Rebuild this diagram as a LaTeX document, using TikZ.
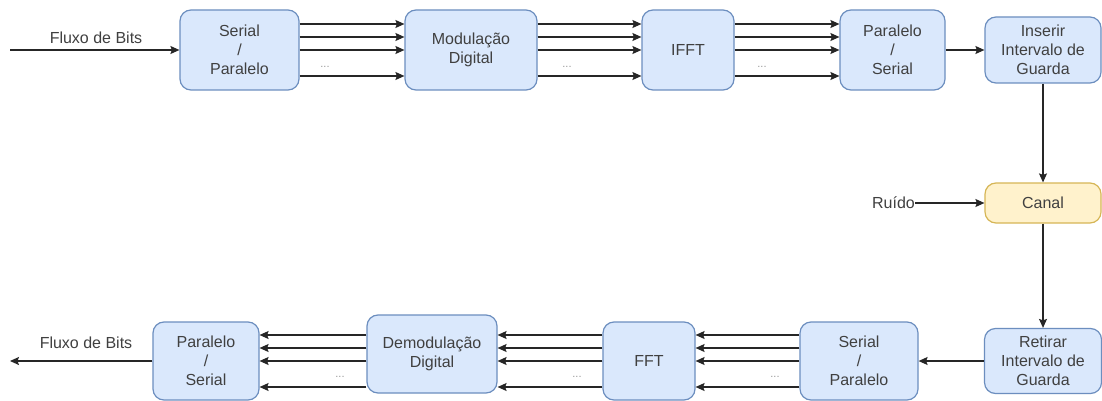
\documentclass[tikz,border=0pt]{standalone}
\usepackage{fontspec}
\setmainfont{Liberation Sans}
\usetikzlibrary{arrows.meta}
\definecolor{bfill}{HTML}{DAE8FC}
\definecolor{bdraw}{HTML}{6C8EBF}
\definecolor{yfill}{HTML}{FFF2CC}
\definecolor{ydraw}{HTML}{D6B656}
\definecolor{txt}{HTML}{404040}
\definecolor{ln}{HTML}{262626}
\definecolor{dotc}{HTML}{9A9A9A}
\tikzset{
  blk/.style={draw=bdraw, fill=bfill, line width=1.2pt, rounded corners=11pt, align=center,
    text=txt, inner sep=0pt, font=\fontsize{16}{19}\selectfont},
  ylw/.style={blk, draw=ydraw, fill=yfill},
  lbl/.style={text=txt, inner sep=0pt, font=\fontsize{16}{19}\selectfont},
  dots/.style={text=dotc, inner sep=0pt, font=\fontsize{11}{12}\selectfont},
  arr/.style={draw=ln, line width=1.3pt, -{Stealth[length=9pt,width=8pt,inset=1.5pt]}}
}
\begin{document}
\begin{tikzpicture}[x=1pt,y=1pt]
\fill[white] (0,0) rectangle (1102,-401);
\useasboundingbox (0,0) rectangle (1102,-401);

% top row
\node[blk, minimum width=119pt, minimum height=80pt] (sp1) at (239.5,-50) {Serial\\/\\Paralelo};
\node[blk, minimum width=132pt, minimum height=80pt] (mod) at (471,-50) {Modulação\\Digital};
\node[blk, minimum width=92pt, minimum height=80pt] (ifft) at (688,-50) {IFFT};
\node[blk, minimum width=105pt, minimum height=80pt] (ps1) at (892.5,-50) {Paralelo\\/\\Serial};
\node[blk, minimum width=116pt, minimum height=66pt] (ins) at (1043,-50) {Inserir\\Intervalo de\\Guarda};

% channel
\node[ylw, minimum width=116pt, minimum height=40pt] (canal) at (1043,-203) {Canal};
\node[lbl, anchor=east] (ruido) at (915,-203) {Ruído};

% bottom row
\node[blk, minimum width=117pt, minimum height=65pt] (ret) at (1043,-361) {Retirar\\Intervalo de\\Guarda};
\node[blk, minimum width=118pt, minimum height=78pt] (sp2) at (859,-361) {Serial\\/\\Paralelo};
\node[blk, minimum width=92pt, minimum height=78pt] (fft) at (649,-361) {FFT};
\node[blk, minimum width=130pt, minimum height=78pt] (demod) at (432,-354) {Demodulação\\Digital};
\node[blk, minimum width=106pt, minimum height=78pt] (ps2) at (206,-361) {Paralelo\\/\\Serial};

% input / output
\coordinate (in) at (10,-50);
\coordinate (out) at (10,-361);
\node[lbl] (fin) at (96,-38) {Fluxo de Bits};
\node[lbl] (fout) at (86,-343) {Fluxo de Bits};
\draw[arr] (in) -- (sp1.west);
\draw[arr] (ps2.west) -- (out);

% top parallel lines
\foreach \a/\b in {sp1/mod, mod/ifft, ifft/ps1} {
  \foreach \d in {26,13,0,-26} {
    \draw[arr] ([yshift=\d pt]\a.east) -- ([yshift=\d pt]\b.west);
  }
}
\node[dots] (d1) at (325,-67) {...};
\node[dots] (d2) at (567,-67) {...};
\node[dots] (d3) at (762,-67) {...};

\draw[arr] (ps1.east) -- (ins.west);
\draw[arr] (ins.south) -- (canal.north);
\draw[arr] (ruido.east) -- (canal.west);
\draw[arr] (canal.south) -- (ret.north);
\draw[arr] (ret.west) -- (sp2.east);

% bottom parallel lines
\foreach \a/\b in {sp2/fft, fft/demod, demod/ps2} {
  \foreach \d in {26,13,0,-26} {
    \draw[arr] (\a.west |- 0,{-361+\d}) -- (\b.east |- 0,{-361+\d});
  }
}
\node[dots] (d4) at (775,-377) {...};
\node[dots] (d5) at (577,-377) {...};
\node[dots] (d6) at (340,-377) {...};
\end{tikzpicture}
\end{document}
